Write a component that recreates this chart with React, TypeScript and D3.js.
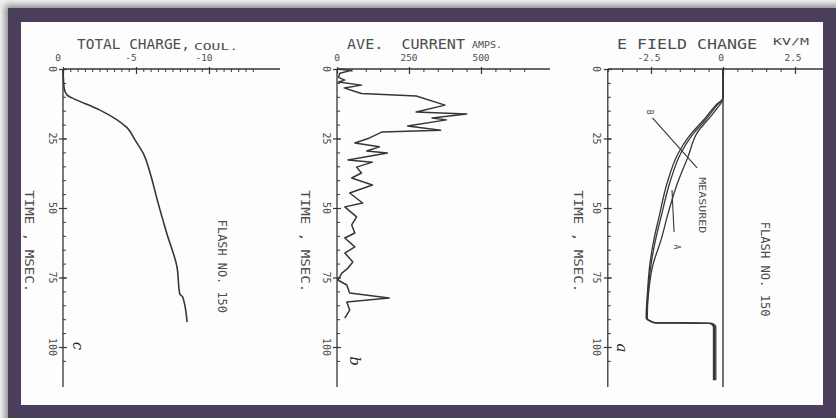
import { useRef, useEffect } from "react";
import * as d3 from "d3";

const WIDTH = 836;
const HEIGHT = 418;

// shared time axis, msec (0 at top, increasing downward)
const timeMajor = [0, 25, 50, 75, 100];
const timeMajorLabels = ["0", "25", "50", "75", "100"];
const timeMinor = [0, 5, 10, 15, 20, 25, 30, 35, 40, 45, 50, 55, 60, 65, 70, 75, 80, 85, 90, 95, 100, 105];

// panel c: total charge, coul.
const chargeTicks = [0, -5, -10];
const chargeTickLabels = ["0", "-5", "-10"];
const chargeTime = [0, 7, 9.5, 10.4, 14.7, 21.2, 25.5, 30.2, 38, 47, 59, 71, 81, 82, 91];
const chargeValue = [0, -0.08, -0.3, -0.62, -2.5, -4.4, -4.93, -5.48, -6.0, -6.45, -7.1, -7.8, -8.0, -8.2, -8.5];

// panel b: average current, amps
const currentTicks = [0, 250, 500];
const currentTickLabels = ["0", "250", "500"];
const currentTime = [
  0, 0.5, 1.5, 3, 4, 4.7, 5.8, 6.8, 8, 8.8, 9.7, 13, 15.5, 16.2, 17.6, 18.3, 20.5, 22, 22.7,
  24.8, 26.6, 28, 29.5, 30.2, 32.7, 33.5, 35.3, 37.4, 39.2, 41.7, 44.6, 48.2, 49.6, 53.2,
  56.1, 59, 60.8, 64, 66.2, 69.4, 71.6, 73.4, 75.9, 77.7, 80.6, 82.4, 83.8, 86.7, 89.6,
];
const currentValue = [
  0, 50, 10, 5, 27, 5, 85, 25, 60, 85, 275, 375, 275, 450, 330, 380, 245, 360, 155,
  113, 62, 147, 103, 175, 38, 123, 68, 85, 51, 123, 44, 89, 27, 68,
  51, 62, 27, 62, 27, 55, 38, 17, 3, 34, 44, 181, 34, 44, 27,
];

// panel a: E field change, kV/m
const fieldTicks = [-2.5, 0, 2.5];
const fieldTickLabels = ["-2.5", "0", "2.5"];
const fieldTimeOuter = [0, 10.4, 13, 17.3, 24.5, 30.2, 41, 53.2, 60.4, 71.2, 80, 89.6, 91.2, 91.5, 92.8, 112];
const fieldB = [0, 0, -0.25, -0.59, -1.2, -1.55, -1.94, -2.22, -2.38, -2.55, -2.62, -2.67, -2.42, -0.45, -0.33, -0.33];
const fieldMeasured = [0, 0, -0.21, -0.53, -1.12, -1.46, -1.85, -2.15, -2.32, -2.51, -2.6, -2.65, -2.4, -0.42, -0.3, -0.3];
const fieldTimeA = [0, 10.4, 15.5, 23, 31.7, 41, 53.2, 60.4, 71.2, 80, 89.6, 91.2, 91.5, 92.8, 112];
const fieldA = [0, 0, -0.31, -0.9, -1.22, -1.58, -1.94, -2.12, -2.45, -2.58, -2.63, -2.38, -0.38, -0.25, -0.25];

const ink = "#363636";
const textInk = "#4d4d4d";
const mono = "'DejaVu Sans Mono', 'Liberation Mono', monospace";

export default function App() {
  const svgRef = useRef(null);

  useEffect(() => {
    const svg = d3.select(svgRef.current);
    svg.selectAll("*").remove();

    // frame
    const defs = svg.append("defs");
    defs
      .append("filter")
      .attr("id", "shade")
      .attr("x", "-5%")
      .attr("y", "-5%")
      .attr("width", "110%")
      .attr("height", "110%")
      .append("feGaussianBlur")
      .attr("stdDeviation", 3);
    svg.append("rect").attr("width", WIDTH).attr("height", HEIGHT).attr("fill", "#f1f1f1");
    svg
      .append("rect")
      .attr("x", 5)
      .attr("y", 5)
      .attr("width", WIDTH)
      .attr("height", HEIGHT)
      .attr("fill", "#8a8a8a")
      .attr("filter", "url(#shade)");
    svg.append("rect").attr("x", 8).attr("y", 8).attr("width", WIDTH - 8).attr("height", HEIGHT - 8).attr("fill", "#4b3e5c");
    svg.append("rect").attr("x", 21).attr("y", 22).attr("width", 802).attr("height", 383).attr("fill", "#fdfdfd");

    const y = d3.scaleLinear().domain([0, 100]).range([69, 347]);
    const tEnd = y.invert(387);

    const txt = (g, x, yy, s, size, opts: any = {}) => {
      const t = g
        .append("text")
        .attr("x", x)
        .attr("y", yy)
        .attr("font-family", mono)
        .attr("font-size", size)
        .attr("fill", textInk)
        .style("white-space", "pre")
        .text(s);
      if (opts.anchor) t.attr("text-anchor", opts.anchor);
      if (opts.len) t.attr("textLength", opts.len).attr("lengthAdjust", "spacingAndGlyphs");
      if (opts.rotate) t.attr("transform", `rotate(90 ${x} ${yy})`).attr("dominant-baseline", "central");
      if (opts.italic) t.attr("font-family", "'DejaVu Serif', serif").attr("font-style", "italic").attr("fill", "#2a2a2a");
      return t;
    };

    function panel(cfg) {
      const g = svg.append("g");
      const { x, x0, xEnd, minor, ticks, labels, dx } = cfg;
      const ax = x(x0);

      // top (value) axis
      g.append("line")
        .attr("x1", ax)
        .attr("x2", xEnd)
        .attr("y1", y(0))
        .attr("y2", y(0))
        .attr("stroke", ink)
        .attr("stroke-width", 1.3);
      const gMinor = g
        .append("g")
        .attr("transform", `translate(0,${y(0)})`)
        .call(d3.axisBottom(x).tickValues(minor).tickSize(3).tickSizeOuter(0).tickFormat(() => ""));
      gMinor.select(".domain").remove();
      gMinor.selectAll("line").attr("stroke", ink);
      const gMajor = g
        .append("g")
        .attr("transform", `translate(0,${y(0) - 2})`)
        .call(d3.axisBottom(x).tickValues(ticks).tickSize(7).tickSizeOuter(0).tickFormat(() => ""));
      gMajor.select(".domain").remove();
      gMajor.selectAll("line").attr("stroke", ink).attr("stroke-width", 1.2);
      ticks.forEach((v, i) => {
        txt(g, x(v) + dx, 61, labels[i], 9.5, { anchor: "middle" });
      });

      // left (time) axis
      g.append("line")
        .attr("x1", ax)
        .attr("x2", ax)
        .attr("y1", y(0))
        .attr("y2", y(tEnd))
        .attr("stroke", ink)
        .attr("stroke-width", 1.3);
      const tMinor = g
        .append("g")
        .attr("transform", `translate(${ax},0)`)
        .call(d3.axisRight(y).tickValues(timeMinor).tickSize(3).tickSizeOuter(0).tickFormat(() => ""));
      tMinor.select(".domain").remove();
      tMinor.selectAll("line").attr("stroke", ink);
      const tMajor = g
        .append("g")
        .attr("transform", `translate(${ax - 4},0)`)
        .call(d3.axisRight(y).tickValues(timeMajor).tickSize(8).tickSizeOuter(0).tickFormat(() => ""));
      tMajor.select(".domain").remove();
      tMajor.selectAll("line").attr("stroke", ink).attr("stroke-width", 1.2);
      timeMajor.forEach((v, i) => {
        txt(g, ax - 11, y(v), timeMajorLabels[i], 10, { anchor: "middle", rotate: true });
      });
      txt(g, cfg.timeLabelX, y(62), "TIME , MSEC.", 13, { anchor: "middle", rotate: true, len: 102 });

      // title
      txt(g, cfg.titleX, 48.5, cfg.title, 14, { len: cfg.titleLen });
      txt(g, cfg.unitX, cfg.unitY, cfg.unit, cfg.unitSize, { len: cfg.unitLen });

      // panel letter
      txt(g, cfg.letterX, cfg.letterY, cfg.letter, 15, { anchor: "middle", rotate: true, italic: true });
      return g;
    }

    // ---- panel c: total charge
    const xc = d3.scaleLinear().domain([0, -10]).range([63, 209]);
    const gc = panel({
      x: xc,
      x0: 0,
      xEnd: 280,
      minor: d3.range(0, -13.01, -0.5),
      ticks: chargeTicks,
      labels: chargeTickLabels,
      dx: -5,
      timeLabelX: 29,
      title: "TOTAL CHARGE,",
      titleX: 77,
      titleLen: 113,
      unit: "COUL.",
      unitX: 194,
      unitY: 49.5,
      unitSize: 9,
      unitLen: 44,
      letter: "c",
      letterX: 78,
      letterY: 346,
    });
    gc.append("path")
      .datum(chargeTime.map((t, i) => [chargeValue[i], t]))
      .attr("fill", "none")
      .attr("stroke", ink)
      .attr("stroke-width", 1.6)
      .attr("d", d3.line().x((d) => xc(d[0])).y((d) => y(d[1])).curve(d3.curveMonotoneY));
    txt(gc, xc(-10.9), y(71), "FLASH NO. 150", 12, { anchor: "middle", rotate: true, len: 93 });

    // ---- panel b: ave. current
    const xb = d3.scaleLinear().domain([0, 500]).range([337, 481]);
    const gb = panel({
      x: xb,
      x0: 0,
      xEnd: 550,
      minor: d3.range(0, 651, 50),
      ticks: currentTicks,
      labels: currentTickLabels,
      dx: 0,
      timeLabelX: 305,
      title: "AVE.  CURRENT",
      titleX: 347,
      titleLen: 118,
      unit: "AMPS.",
      unitX: 472,
      unitY: 48,
      unitSize: 8,
      unitLen: 30,
      letter: "b",
      letterX: 355,
      letterY: 361,
    });
    gb.append("path")
      .datum(currentTime.map((t, i) => [currentValue[i], t]))
      .attr("fill", "none")
      .attr("stroke", ink)
      .attr("stroke-width", 1.5)
      .attr("stroke-linejoin", "round")
      .attr("d", d3.line().x((d) => xb(d[0])).y((d) => y(d[1])));

    // ---- panel a: E field change
    const xa = d3.scaleLinear().domain([-2.5, 2.5]).range([651, 795]);
    const ga = panel({
      x: xa,
      x0: -4,
      xEnd: 823,
      minor: d3.range(-4, 2.51, 0.5),
      ticks: fieldTicks,
      labels: fieldTickLabels,
      dx: -2,
      timeLabelX: 578,
      title: "E FIELD CHANGE",
      titleX: 617,
      titleLen: 140,
      unit: "KV/M",
      unitX: 773,
      unitY: 45,
      unitSize: 8,
      unitLen: 36,
      letter: "a",
      letterX: 622,
      letterY: 348,
    });
    // zero line
    ga.append("line")
      .attr("x1", xa(0))
      .attr("x2", xa(0))
      .attr("y1", y(0))
      .attr("y2", y(tEnd))
      .attr("stroke", ink)
      .attr("stroke-width", 1.4);
    const fieldLine = d3.line().x((d) => xa(d[0])).y((d) => y(d[1])).curve(d3.curveMonotoneY);
    [
      [fieldTimeOuter, fieldB],
      [fieldTimeOuter, fieldMeasured],
      [fieldTimeA, fieldA],
    ].forEach(([ts, vs]) => {
      ga.append("path")
        .datum(ts.map((t, i) => [vs[i], t]))
        .attr("fill", "none")
        .attr("stroke", ink)
        .attr("stroke-width", 1.3)
        .attr("d", fieldLine);
    });
    // annotations
    ga.append("line")
      .attr("x1", xa(-2.45))
      .attr("y1", y(17.6))
      .attr("x2", xa(-0.9))
      .attr("y2", y(35.6))
      .attr("stroke", ink)
      .attr("stroke-width", 1.1);
    ga.append("line")
      .attr("x1", xa(-1.77))
      .attr("y1", y(43.5))
      .attr("x2", xa(-1.7))
      .attr("y2", y(58.6))
      .attr("stroke", ink)
      .attr("stroke-width", 1.1);
    txt(ga, xa(-2.55), y(15.5), "B", 8, { anchor: "middle", rotate: true });
    txt(ga, xa(-0.76), y(49), "MEASURED", 8, { anchor: "middle", rotate: true, len: 56 });
    txt(ga, xa(-1.63), y(64), "A", 8, { anchor: "middle", rotate: true });
    txt(ga, xa(1.46), y(72), "FLASH NO. 150", 12, { anchor: "middle", rotate: true, len: 95 });
  }, []);

  return (
    <svg
      ref={svgRef}
      width={WIDTH}
      height={HEIGHT}
      style={{ position: "fixed", left: 0, top: 0, display: "block" }}
    />
  );
}
